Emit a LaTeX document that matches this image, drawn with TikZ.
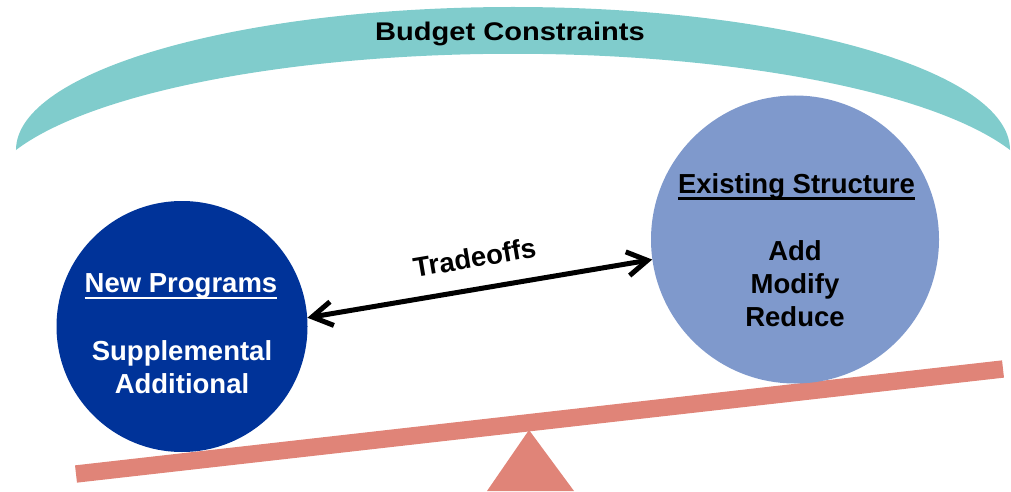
\documentclass[tikz,border=0pt]{standalone}
\usepackage{fontspec}
\setmainfont{Liberation Sans}
\usetikzlibrary{arrows.meta}
\definecolor{budgetteal}{RGB}{128,204,204}
\definecolor{newblue}{RGB}{0,51,153}
\definecolor{oldblue}{RGB}{127,153,204}
\definecolor{seesaw}{RGB}{224,132,120}
\newcommand{\lblfont}{\fontsize{27.5}{33}\selectfont\bfseries}

\begin{document}
\begin{tikzpicture}[x=1pt,y=1pt,
  ball/.style={circle,inner sep=0pt,draw=none},
  txt/.style={font=\lblfont,inner sep=0pt,anchor=base},
  uline/.style={line width=2.4pt},
  trade/.style={line width=5pt,{Straight Barb[length=20pt,width=24pt]}-{Straight Barb[length=20pt,width=24pt]}}]
  \useasboundingbox (0,0) rectangle (1011,491);
  % budget arc
  \fill[budgetteal] (16,341) arc[start angle=180,end angle=0,x radius=497,y radius=143]
     arc[start angle=20,end angle=160,x radius=528.9,y radius=146.2] -- cycle;
  \node [txt] (T_B) at (510,450) {\scalebox{1.14}[1]{\fontsize{25.5}{30}\selectfont\bfseries Budget Constraints}};
  % seesaw
  \fill[seesaw] (487,0) -- (574,0) -- (529,61) -- cycle;
  \draw[seesaw,line width=17.4pt] (76,17) -- (1003,122);
  \node [ball,fill=newblue,minimum size=251pt] (C_N) at (182,164.5) {};
  \node [ball,fill=oldblue,minimum size=288pt] (C_E) at (795,251.5) {};
  % texts
  \node [txt,white] (T_N) at ([xshift=-1pt,yshift=33.8pt]C_N.center) {New Programs};
  \draw[uline,white] ([yshift=-5pt]T_N.base west) -- ([yshift=-5pt]T_N.base east);
  \node [txt,white] (T_S) at ([yshift=-33.5pt]C_N.center) {Supplemental};
  \node [txt,white] (T_A) at ([yshift=-33pt]T_S.base) {Additional};
  \node [txt] (T_E) at ([xshift=1.5pt,yshift=46.2pt]C_E.center) {Existing Structure};
  \draw[uline] ([yshift=-5pt]T_E.base west) -- ([yshift=-5pt]T_E.base east);
  \node [txt] (T_D) at ([yshift=-20.5pt]C_E.center) {Add};
  \node [txt] (T_M) at ([yshift=-33pt]T_D.base) {Modify};
  \node [txt] (T_R) at ([yshift=-33pt]T_M.base) {Reduce};
  % tradeoffs
  \draw[trade] (C_N.4) -- node[txt,midway,sloped,above=19pt] (T_T) {Tradeoffs} (C_E.188);
\end{tikzpicture}
\end{document}
